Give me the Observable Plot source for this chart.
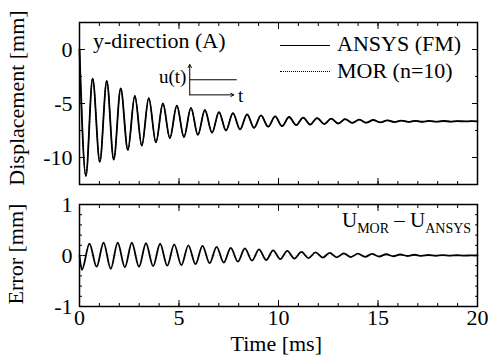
<!DOCTYPE html>
<html><head><meta charset="utf-8">
<script src="https://cdn.jsdelivr.net/npm/d3@7"></script>
<script src="https://cdn.jsdelivr.net/npm/@observablehq/plot@0.6"></script>
<style>
body{margin:0;background:#fff;}
#wrap{position:relative;width:490px;height:362px;font-family:"Liberation Serif","Times New Roman",serif;color:#000;overflow:hidden;}
#wrap svg{position:absolute;left:0;}
.abs{position:absolute;white-space:nowrap;line-height:1;font-size:22px;}
</style></head><body><div id="wrap"></div>
<script>
// ---- data ----
const timeTop = [0, 0.32, 0.66, 1.02, 1.37, 1.72, 2.07, 2.43, 2.78, 3.13, 3.48, 3.84, 4.19, 4.54, 4.89, 5.25, 5.60, 5.95, 6.30, 6.66, 7.01, 7.36, 7.71, 8.07, 8.42, 8.77, 9.12, 9.48, 9.83, 10.18, 10.53, 10.89, 11.24, 11.59, 11.94, 12.30, 12.65, 13.00, 13.35, 13.71, 14.06, 14.41, 14.76, 15.12, 15.47, 15.82, 16.17, 16.53, 16.88, 17.23, 17.58, 17.94, 18.29, 18.64, 18.99, 19.35, 19.70, 20.0];
const dispANSYS = [0, -11.7, -2.7, -10.4, -2.9, -10.2, -3.6, -9.3, -4.3, -8.9, -4.5, -8.6, -5.0, -8.2, -5.2, -8.1, -5.4, -7.9, -5.6, -7.7, -5.8, -7.5, -5.9, -7.4, -6.0, -7.25, -6.1, -7.15, -6.2, -7.1, -6.25, -7.0, -6.3, -6.95, -6.35, -6.9, -6.4, -6.85, -6.45, -6.8, -6.5, -6.78, -6.53, -6.75, -6.56, -6.72, -6.58, -6.7, -6.6, -6.69, -6.61, -6.68, -6.62, -6.67, -6.63, -6.66, -6.64, -6.65];
const dispMOR = [0, -11.7, -2.7, -10.4, -2.9, -10.2, -3.6, -9.3, -4.3, -8.9, -4.5, -8.6, -5.0, -8.2, -5.2, -8.1, -5.4, -7.9, -5.6, -7.7, -5.8, -7.5, -5.9, -7.4, -6.0, -7.25, -6.1, -7.15, -6.2, -7.1, -6.25, -7.0, -6.3, -6.95, -6.35, -6.9, -6.4, -6.85, -6.45, -6.8, -6.5, -6.78, -6.53, -6.75, -6.56, -6.72, -6.58, -6.7, -6.6, -6.69, -6.61, -6.68, -6.62, -6.67, -6.63, -6.66, -6.64, -6.65];
const timeErr = [0, 0.12, 0.50, 0.86, 1.21, 1.57, 1.92, 2.28, 2.63, 2.99, 3.34, 3.70, 4.05, 4.41, 4.76, 5.12, 5.47, 5.83, 6.18, 6.54, 6.89, 7.25, 7.60, 7.96, 8.31, 8.67, 9.02, 9.38, 9.73, 10.09, 10.44, 10.80, 11.15, 11.51, 11.86, 12.22, 12.57, 12.93, 13.28, 13.64, 13.99, 14.35, 14.70, 15.06, 15.41, 15.77, 16.12, 16.48, 16.83, 17.19, 17.54, 17.90, 18.25, 18.61, 18.96, 19.32, 19.67, 20.0];
const errVals = [0, -0.28, 0.23, -0.22, 0.25, -0.26, 0.25, -0.23, 0.25, -0.22, 0.24, -0.21, 0.23, -0.2, 0.22, -0.19, 0.2, -0.17, 0.19, -0.15, 0.17, -0.14, 0.15, -0.12, 0.14, -0.1, 0.12, -0.09, 0.1, -0.07, 0.09, -0.06, 0.07, -0.05, 0.06, -0.04, 0.05, -0.035, 0.04, -0.03, 0.035, -0.025, 0.03, -0.02, 0.025, -0.015, 0.02, -0.01, 0.015, -0.008, 0.01, -0.005, 0.008, -0.004, 0.005, -0.003, 0.003, 0];

const xTickLabels = [0, 5, 10, 15, 20];
const xMinorTicks = [0,1,2,3,4,5,6,7,8,9,10,11,12,13,14,15,16,17,18,19,20];
const yTopTickLabels = [0, -5, -10];
const yTopMinorTicks = [2.5, 0, -2.5, -5, -7.5, -10, -12.5];
const yErrTickLabels = [1, 0, -1];
const yErrMinorTicks = [-1, -0.8, -0.6, -0.4, -0.2, 0, 0.2, 0.4, 0.6, 0.8, 1];
const seriesNames = ["ANSYS (FM)", "MOR (n=10)"];
// inset sketch of the step input u(t), in data units of the top panel
const insetStepX = [5.54, 7.9];
const insetStepY = -2.8;
const insetAxisY = -4.2;
const insetAxisX = [5.54, 7.75];
const insetArrowTop = -1.4;

const topRows = timeTop.map((t, i) => ({t, ansys: dispANSYS[i], mor: dispMOR[i]}));
const errRows = timeErr.map((t, i) => ({t, e: errVals[i]}));

const styleBase = {fontFamily: "'Liberation Serif','Times New Roman',serif", fontSize: "22px", color: "#000", background: "transparent", overflow: "visible"};
const blank = () => "";

function frameTicks(xMajor, xMinor, yMajor, yMinor) {
  return [
    Plot.axisX(xMinor, {anchor: "bottom", tickSize: -3, tickFormat: blank, label: null}),
    Plot.axisX(xMajor, {anchor: "bottom", tickSize: -6, tickFormat: blank, label: null}),
    Plot.axisX(xMinor, {anchor: "top", tickSize: -3, tickFormat: blank, label: null}),
    Plot.axisX(xMajor, {anchor: "top", tickSize: -6, tickFormat: blank, label: null}),
    Plot.axisY(yMinor, {anchor: "left", tickSize: -3, tickFormat: blank, label: null}),
    Plot.axisY(yMajor, {anchor: "left", tickSize: -6, tickFormat: blank, label: null}),
    Plot.axisY(yMinor, {anchor: "right", tickSize: -3, tickFormat: blank, label: null}),
    Plot.axisY(yMajor, {anchor: "right", tickSize: -6, tickFormat: blank, label: null})
  ];
}

const topPlot = Plot.plot({
  width: 490, height: 192,
  marginLeft: 79, marginRight: 13, marginTop: 22, marginBottom: 8,
  x: {domain: [0, 20], axis: null},
  y: {domain: [-12.5, 2.5], axis: null},
  style: styleBase,
  marks: [
    ...frameTicks(xTickLabels, xMinorTicks, yTopTickLabels, yTopMinorTicks),
    Plot.axisY(yTopTickLabels, {anchor: "left", tickSize: 0, tickPadding: 7, label: null, tickFormat: d => String(d), fontSize: 22}),
    Plot.line(topRows, {x: "t", y: "ansys", curve: "monotone-x", stroke: "#000", strokeWidth: 1.8}),
    Plot.line(topRows, {x: "t", y: "mor", curve: "monotone-x", stroke: "#000", strokeWidth: 1.2, strokeDasharray: "1.5,1.5"}),
    Plot.arrow([{x1: insetAxisX[0], y1: insetAxisY, x2: insetAxisX[0], y2: insetArrowTop}], {x1: "x1", y1: "y1", x2: "x2", y2: "y2", stroke: "#000", strokeWidth: 1, headLength: 5}),
    Plot.arrow([{x1: insetAxisX[0], y1: insetAxisY, x2: insetAxisX[1], y2: insetAxisY}], {x1: "x1", y1: "y1", x2: "x2", y2: "y2", stroke: "#000", strokeWidth: 1, headLength: 5}),
    Plot.link([{x1: insetStepX[0], x2: insetStepX[1], y: insetStepY}], {x1: "x1", x2: "x2", y1: "y", y2: "y", stroke: "#000", strokeWidth: 1.2}),
    Plot.frame({stroke: "#000", strokeWidth: 1.5})
  ]
});
topPlot.style.top = "0px";

const errPlot = Plot.plot({
  width: 490, height: 170,
  marginLeft: 79, marginRight: 13, marginTop: 12, marginBottom: 56,
  x: {domain: [0, 20], axis: null},
  y: {domain: [-1, 1], axis: null},
  style: styleBase,
  marks: [
    ...frameTicks(xTickLabels, xMinorTicks, yErrTickLabels, yErrMinorTicks),
    Plot.axisY(yErrTickLabels, {anchor: "left", tickSize: 0, tickPadding: 7, label: null, tickFormat: d => String(d), fontSize: 22}),
    Plot.axisX(xTickLabels, {anchor: "bottom", tickSize: 0, tickPadding: 3, label: null, tickFormat: d => String(d), fontSize: 22}),
    Plot.ruleY([0], {stroke: "#bbb", strokeWidth: 0.6, strokeDasharray: "1,2"}),
    Plot.line(errRows, {x: "t", y: "e", curve: "monotone-x", stroke: "#000", strokeWidth: 1.8}),
    Plot.frame({stroke: "#000", strokeWidth: 1.5})
  ]
});
errPlot.style.top = "192px";

const wrap = document.getElementById("wrap");
wrap.appendChild(topPlot);
wrap.appendChild(errPlot);

function addText(html, left, top, extra = "") {
  const d = document.createElement("div");
  d.className = "abs";
  d.style.left = left + "px";
  d.style.top = top + "px";
  d.style.cssText += extra;
  d.innerHTML = html;
  wrap.appendChild(d);
  return d;
}
function addRotated(text, cx, cy) {
  const d = document.createElement("div");
  d.className = "abs";
  d.textContent = text;
  wrap.appendChild(d);
  const w = d.offsetWidth, h = d.offsetHeight;
  d.style.left = (cx - w / 2) + "px";
  d.style.top = (cy - h / 2) + "px";
  d.style.transform = "rotate(-90deg)";
}
function addCentered(text, cx, cy) {
  const d = document.createElement("div");
  d.className = "abs";
  d.textContent = text;
  wrap.appendChild(d);
  d.style.left = (cx - d.offsetWidth / 2) + "px";
  d.style.top = (cy - d.offsetHeight / 2) + "px";
}

addRotated("Displacement [mm]", 16, 98);
addRotated("Error [mm]", 16, 254);
addCentered("Time [ms]", 276, 344);
addText("y-direction (A)", 93, 30);
addText("u(t)", 159, 67, "font-size:19px;");
addText("t", 238, 86, "font-size:19px;");

// legend
function legendLine(x, y, w, style) {
  const d = document.createElement("div");
  d.style.cssText = `position:absolute;left:${x}px;top:${y}px;width:${w}px;height:0;border-top:${style};`;
  wrap.appendChild(d);
}
legendLine(280, 45, 50, "1.5px solid #000");
addText(seriesNames[0], 337, 33);
legendLine(280, 71, 50, "1.5px dotted #000");
addText(seriesNames[1], 337, 60);

// U_MOR - U_ANSYS
addText('U<span style="font-size:14px;position:relative;top:6px;">MOR</span> &#8211; U<span style="font-size:14px;position:relative;top:6px;">ANSYS</span>', 342, 210, "font-size:21px;");
</script>
</body></html>
